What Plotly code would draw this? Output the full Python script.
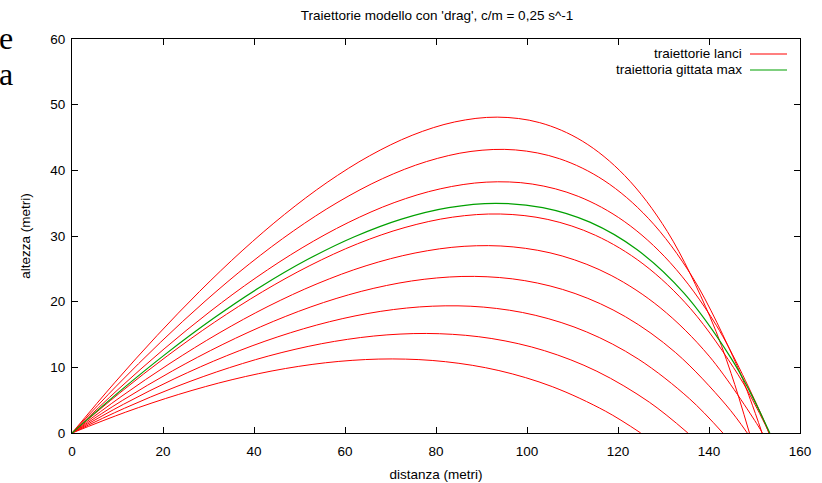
import plotly.graph_objects as go

# Trajectories (launch angles 16..40 deg, step 3)
x_16 = [0, 11.73, 23.46, 35.18, 46.91, 58.64, 70.37, 82.09, 93.82, 105.55, 117.28, 125.0]
y_16 = [0, 3.16, 5.88, 8.12, 9.82, 10.90, 11.28, 10.86, 9.51, 7.06, 3.31, 0]

x_19 = [0, 11.54, 23.07, 34.61, 46.14, 57.68, 69.21, 80.75, 92.28, 103.82, 115.36, 126.89, 135.36]
y_19 = [0, 3.77, 7.10, 9.95, 12.26, 13.95, 14.94, 15.12, 14.38, 12.54, 9.40, 4.69, 0]

x_22 = [0, 11.31, 22.62, 33.93, 45.25, 56.56, 67.87, 79.18, 90.49, 101.80, 113.12, 124.43, 135.74, 143.05]
y_22 = [0, 4.37, 8.30, 11.75, 14.65, 16.94, 18.53, 19.31, 19.17, 17.93, 15.39, 11.27, 5.20, 0]

x_25 = [0, 11.06, 22.11, 33.17, 44.23, 55.29, 66.34, 77.40, 88.46, 99.51, 110.57, 121.63, 132.68, 143.74, 148.41]
y_25 = [0, 4.95, 9.47, 13.50, 16.99, 19.87, 22.04, 23.41, 23.85, 23.20, 21.24, 17.71, 12.23, 4.27, 0]

x_28 = [0, 10.77, 21.54, 32.32, 43.09, 53.86, 64.63, 75.40, 86.18, 96.95, 107.72, 118.49, 129.26, 140.04, 150.81, 151.71]
y_28 = [0, 5.53, 10.61, 15.22, 19.28, 22.72, 25.47, 27.41, 28.43, 28.34, 26.96, 24.00, 19.09, 11.70, 1.08, 0]

x_31 = [0, 10.46, 20.92, 31.37, 41.83, 52.29, 62.75, 73.20, 83.66, 94.12, 104.58, 115.03, 125.49, 135.95, 146.41, 150.59, 153.25]
y_31 = [0, 6.08, 11.73, 16.89, 21.50, 25.50, 28.81, 31.30, 32.87, 33.35, 32.52, 30.11, 25.76, 18.93, 8.86, 3.69, 0]

x_34 = [0, 10.11, 20.23, 30.34, 40.46, 50.57, 60.69, 70.80, 80.92, 91.03, 101.15, 111.26, 121.37, 131.49, 141.60, 151.72, 153.15]
y_34 = [0, 6.62, 12.80, 18.50, 23.66, 28.20, 32.04, 35.08, 37.18, 38.20, 37.91, 36.04, 32.22, 25.93, 16.41, 2.46, 0]

x_37 = [0, 9.74, 19.49, 29.23, 38.97, 48.72, 58.46, 68.20, 77.95, 87.69, 97.44, 107.18, 116.92, 126.67, 136.41, 146.15, 149.08, 151.67]
y_37 = [0, 7.14, 13.84, 20.06, 25.74, 30.80, 35.16, 38.72, 41.34, 42.88, 43.11, 41.76, 38.46, 32.69, 23.69, 10.26, 5.11, 0]

x_40 = [0, 9.35, 18.69, 28.04, 37.38, 46.73, 56.07, 65.42, 74.76, 84.11, 93.46, 102.80, 112.15, 121.49, 130.84, 140.18, 144.86, 148.89]
y_40 = [0, 7.64, 14.84, 21.56, 27.74, 33.30, 38.16, 42.22, 45.34, 47.37, 48.10, 47.26, 44.46, 39.19, 30.69, 17.76, 9.07, 0]

# Max range trajectory
x_max = [0, 10.35, 20.69, 31.04, 41.38, 51.73, 62.08, 72.42, 82.77, 93.11, 103.46, 113.81, 124.15, 134.50, 144.84, 148.98, 153.37]
y_max = [0, 6.26, 12.09, 17.43, 22.23, 26.41, 29.89, 32.58, 34.33, 34.98, 34.33, 32.11, 27.94, 21.29, 11.41, 6.30, 0]

x_ticks = [0, 20, 40, 60, 80, 100, 120, 140, 160]
y_ticks = [0, 10, 20, 30, 40, 50, 60]

RED = "#ff0000"
GREEN = "#00a000"
FONT = "Liberation Sans, Arial, Helvetica, sans-serif"

fig = go.Figure()
for xs, ys in [(x_16, y_16), (x_19, y_19), (x_22, y_22), (x_25, y_25), (x_28, y_28),
               (x_31, y_31), (x_34, y_34), (x_37, y_37), (x_40, y_40)]:
    fig.add_trace(go.Scatter(x=xs, y=ys, mode="lines", showlegend=False,
                             line=dict(color=RED, width=1, shape="spline", smoothing=1)))
fig.add_trace(go.Scatter(x=x_max, y=y_max, mode="lines", showlegend=False,
                         line=dict(color=GREEN, width=1.2, shape="spline", smoothing=1)))

W, H = 822, 483
L, R, T, B = 72, 22, 39, 50
pw, ph = W - L - R, H - T - B

def px(xp):
    return (xp - L) / pw

def py(yp):
    return (H - B - yp) / ph

axis_common = dict(showline=True, linecolor="black", linewidth=1, mirror="ticks",
                   ticks="inside", ticklen=6, tickcolor="black", tickwidth=1,
                   showgrid=False, zeroline=False, automargin=False,
                   tickfont=dict(family=FONT, size=13.5, color="black"))

fig.update_layout(
    width=W, height=H,
    margin=dict(l=L, r=R, t=T, b=B, autoexpand=False),
    paper_bgcolor="white", plot_bgcolor="white",
    font=dict(family=FONT, size=13.5, color="black"),
    title=dict(text="Traiettorie modello con 'drag', c/m = 0,25 s^-1",
               x=px(437), xanchor="center", xref="paper",
               y=1 - 15 / H, yanchor="middle", yref="container",
               font=dict(family=FONT, size=13.5, color="black")),
    xaxis=dict(range=[0, 160], tickvals=x_ticks, ticklabelstandoff=6, **axis_common,
               title=dict(text="distanza (metri)", standoff=11,
                          font=dict(family=FONT, size=13.5, color="black"))),
    yaxis=dict(range=[0, 60], tickvals=y_ticks, ticklabelstandoff=3, **axis_common,
               title=dict(text="altezza (metri)", standoff=16,
                          font=dict(family=FONT, size=13.5, color="black"))),
    showlegend=False,
)

# gnuplot-style key: text then line sample
legend_rows = [("traiettorie lanci", RED, 54), ("traiettoria gittata max", GREEN, 70)]
for label, col, yp in legend_rows:
    fig.add_annotation(text=label, xref="paper", yref="paper", x=px(744), y=py(yp),
                       xanchor="right", yanchor="middle", showarrow=False,
                       font=dict(family=FONT, size=13.5, color="black"))
    fig.add_shape(type="line", xref="paper", yref="paper",
                  x0=px(750), x1=px(787), y0=py(yp), y1=py(yp),
                  line=dict(color=col, width=1.2))

# fragments of surrounding document text
for ch, yp in [("e", 38), ("a", 74)]:
    fig.add_annotation(text=ch, xref="paper", yref="paper", x=px(6), y=py(yp),
                       xanchor="center", yanchor="middle", showarrow=False,
                       font=dict(family="Liberation Serif, Times New Roman, serif", size=32, color="black"))

fig.write_html("out.html", config={"displayModeBar": False},
               post_script="document.body.style.margin='0px';document.body.style.overflow='hidden';")
